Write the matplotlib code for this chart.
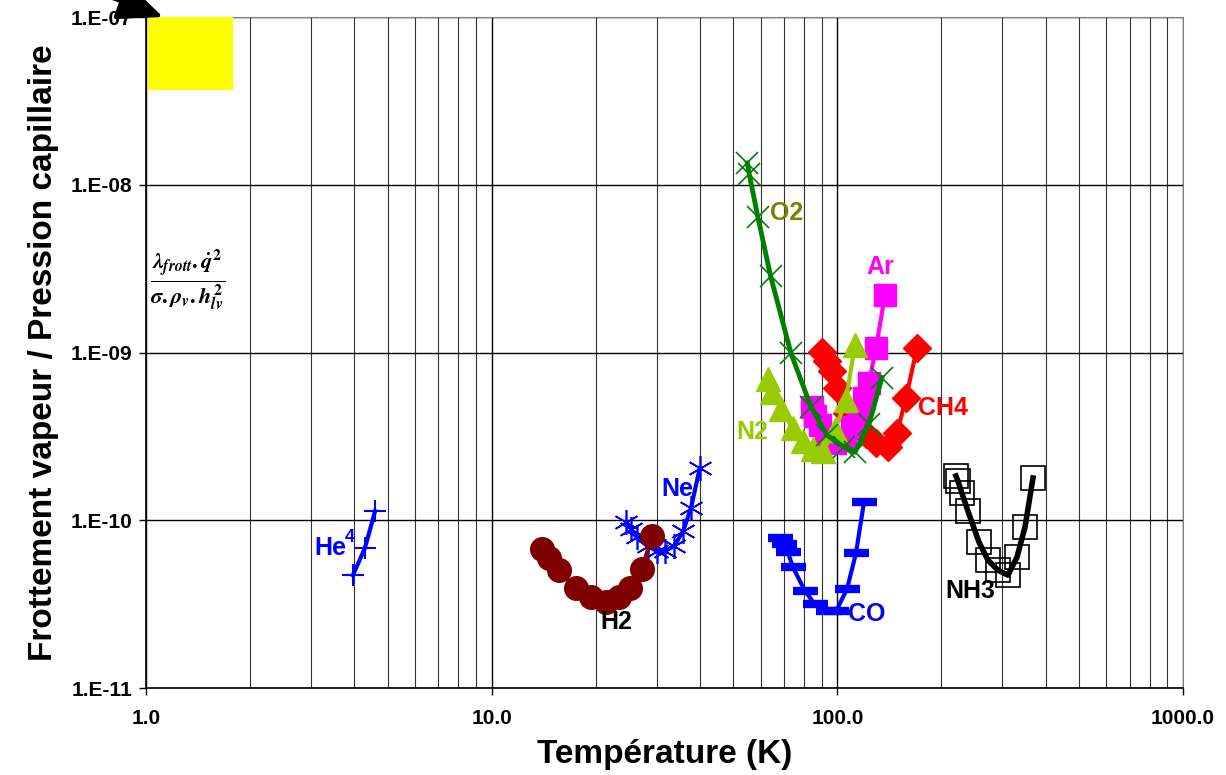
import math
import matplotlib
matplotlib.use('Agg')
import matplotlib.pyplot as plt
from matplotlib.ticker import FixedLocator, FuncFormatter, NullLocator, LogLocator
from matplotlib.patches import Rectangle

plt.rcParams['font.family'] = ['Liberation Sans', 'DejaVu Sans']
plt.rcParams['font.weight'] = 'bold'
plt.rcParams['mathtext.fontset'] = 'stix'

# temperature (K) / friction-to-capillary ratio for each fluid
he4_T = [3.97, 4.30, 4.60]
he4_v = [4.72e-11, 6.83e-11, 1.135e-10]

h2_T = [13.98, 14.65, 15.65, 17.5, 19.4, 21.4, 23.35, 25.1, 27.2, 29.1]
h2_v = [6.74e-11, 5.96e-11, 5.05e-11, 3.94e-11, 3.49e-11, 3.26e-11, 3.49e-11, 3.94e-11, 5.12e-11, 8.05e-11]

ne_T = [24.5, 25.3, 26.3, 28.3, 30.1, 31.7, 33.7, 35.8, 37.7, 40.0]
ne_v = [9.76e-11, 8.87e-11, 7.94e-11, 7.02e-11, 6.56e-11, 6.56e-11, 7.02e-11, 8.63e-11, 1.18e-10, 2.05e-10]

co_T = [68.2, 70.1, 71.9, 74.4, 80.6, 86.1, 93.9, 99.1, 106.6, 113.2, 119.4]
co_v = [7.84e-11, 7.22e-11, 6.47e-11, 5.26e-11, 3.79e-11, 3.17e-11, 2.88e-11, 2.88e-11, 3.89e-11, 6.38e-11, 1.285e-10]

ch4_T = [90.3, 93.3, 96.5, 99.7, 106.6, 121.0, 129.3, 140.1, 148.7, 157.9, 169.8]
ch4_v = [1.01e-9, 8.89e-10, 7.76e-10, 6.14e-10, 4.36e-10, 3.27e-10, 2.89e-10, 2.73e-10, 3.31e-10, 5.36e-10, 1.06e-9]

ar_T = [84.4, 86.1, 89.1, 92.7, 98.4, 105.2, 110.2, 114.7, 119.4, 123.4, 129.3, 137.3]
ar_v = [4.73e-10, 4.18e-10, 3.70e-10, 3.18e-10, 2.89e-10, 3.01e-10, 3.60e-10, 4.42e-10, 5.36e-10, 6.58e-10, 1.06e-9, 2.20e-9]

n2_T = [63.0, 64.7, 68.7, 74.4, 79.5, 85.0, 90.8, 98.4, 105.9, 112.4]
n2_v = [6.95e-10, 5.81e-10, 4.61e-10, 3.55e-10, 2.97e-10, 2.66e-10, 2.59e-10, 3.45e-10, 5.21e-10, 1.11e-9]

o2_T = [54.9, 55.6, 58.9, 64.1, 73.4, 83.9, 93.3, 104.5, 112.4, 123.4, 134.6]
o2_v = [1.35e-8, 1.16e-8, 6.43e-9, 2.86e-9, 9.93e-10, 4.75e-10, 3.22e-10, 2.74e-10, 2.55e-10, 3.75e-10, 7.10e-10]

nh3_T = [220.3, 223.4, 229.3, 238.7, 256.8, 272.6, 291.4, 311.5, 330.8, 348.9, 368.0]
nh3_v = [1.84e-10, 1.71e-10, 1.45e-10, 1.135e-10, 7.42e-11, 5.80e-11, 5.05e-11, 4.72e-11, 6.04e-11, 9.12e-11, 1.79e-10]

x_ticks = [1, 10, 100, 1000]
y_ticks = [1e-11, 1e-10, 1e-9, 1e-8, 1e-7]

fig = plt.figure(figsize=(12.26, 7.75), dpi=100)
ax = fig.add_axes([0.119, 0.112, 0.846, 0.866])
ax.set_xscale('log')
ax.set_yscale('log')
ax.set_xlim(1, 1000)
ax.set_ylim(1e-11, 1e-7)

ax.plot(he4_T, he4_v, color='#0000FF', lw=3, marker='+', ms=16, mew=1.5)
ax.plot(ne_T, ne_v, color='#0000FF', lw=3, marker=(6, 2, 0), ms=18, mew=1.2)
ax.plot(h2_T, h2_v, color='#800000', lw=3, marker='o', ms=17)
ax.plot(co_T, co_v, color='#0000FF', lw=3, marker='_', ms=18, mew=6)
ax.plot(ch4_T, ch4_v, color='#FF0000', lw=3, marker='D', ms=14)
ax.plot(ar_T, ar_v, color='#FF00FF', lw=3, marker='s', ms=16)
ax.plot(n2_T, n2_v, color='#99CC00', lw=3, marker='^', ms=17)
ax.plot(o2_T, o2_v, color='#008000', lw=3.5, marker='x', ms=16, mew=1.2)
ax.plot(nh3_T, nh3_v, color='black', lw=4, marker='s', ms=17, mfc='none', mew=1.2)

lab = dict(fontsize=18, fontweight='bold', ha='center', va='center')
ax.text(71.5, 6.79e-9, 'O2', color='#808000', **lab)
ax.text(132.8, 3.23e-9, 'Ar', color='#FF00FF', **lab)
ax.text(56.6, 3.36e-10, 'N2', color='#99CC00', **lab)
ax.text(202, 4.67e-10, 'CH4', color='#FF0000', **lab)
ax.text(34.4, 1.54e-10, 'Ne', color='#0000FF', **lab)
ax.text(3.41, 6.83e-11, 'He', color='#0000FF', **lab)
ax.text(3.88, 7.9e-11, '4', color='#0000FF', fontsize=13, fontweight='bold', ha='center', va='center')
ax.text(23.0, 2.47e-11, 'H2', color='black', **lab)
ax.text(121.8, 2.76e-11, 'CO', color='#0000FF', **lab)
ax.text(241.9, 3.79e-11, 'NH3', color='black', **lab)

ax.text(0.04, 0.608, r'$\frac{\lambda_{frott}.\dot{q}^{2}}{\sigma.\rho_{v}.h_{lv}^{2}}$',
        transform=ax.transAxes, fontsize=23, ha='center', va='center')

ax.add_patch(Rectangle((0.002, 0.891), 0.082, 0.109, transform=ax.transAxes,
                       facecolor='#FFFF00', edgecolor='none', zorder=3))

ax.xaxis.set_major_locator(FixedLocator(x_ticks))
ax.xaxis.set_minor_locator(LogLocator(base=10, subs=range(2, 10)))
ax.yaxis.set_major_locator(FixedLocator(y_ticks))
ax.yaxis.set_minor_locator(NullLocator())
ax.xaxis.set_major_formatter(FuncFormatter(lambda v, p: '%.1f' % v))
ax.yaxis.set_major_formatter(FuncFormatter(lambda v, p: '1.E%03d' % round(math.log10(v))))
ax.tick_params(which='major', length=5, width=1, labelsize=15)
ax.tick_params(axis='x', which='major', pad=10)
ax.tick_params(axis='y', which='major', pad=5)
ax.tick_params(which='minor', length=0)
for t in ax.get_xticklabels() + ax.get_yticklabels():
    t.set_fontweight('bold')

ax.grid(which='major', color='black', lw=1.0)
ax.grid(which='minor', axis='x', color='#333333', lw=0.8)
ax.set_axisbelow(True)
for s in ['top', 'right']:
    ax.spines[s].set_color('#808080')
for s in ['left', 'bottom']:
    ax.spines[s].set_linewidth(1.2)

ax.set_xlabel('Température (K)', fontsize=24, fontweight='bold', labelpad=8)
ax.set_ylabel('Frottement vapeur / Pression capillaire', fontsize=24, fontweight='bold', labelpad=8)

ax.annotate('', xy=(163, 758), xycoords='figure pixels', xytext=(65, 795),
            textcoords='figure pixels', annotation_clip=False,
            arrowprops=dict(arrowstyle='-|>,head_length=1.4,head_width=0.6',
                            mutation_scale=20, lw=3, color='black',
                            shrinkA=0, shrinkB=0))

fig.savefig('out.png', dpi=100)
